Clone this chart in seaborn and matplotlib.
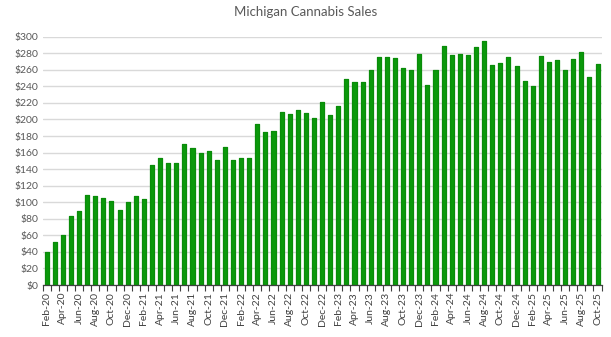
import matplotlib
matplotlib.use("Agg")
import matplotlib.pyplot as plt
import seaborn as sns
import pandas as pd
import numpy as np
from matplotlib.ticker import FixedLocator, FuncFormatter

months = ["Feb-20","Mar-20","Apr-20","May-20","Jun-20","Jul-20","Aug-20","Sep-20","Oct-20","Nov-20","Dec-20",
          "Jan-21","Feb-21","Mar-21","Apr-21","May-21","Jun-21","Jul-21","Aug-21","Sep-21","Oct-21","Nov-21","Dec-21",
          "Jan-22","Feb-22","Mar-22","Apr-22","May-22","Jun-22","Jul-22","Aug-22","Sep-22","Oct-22","Nov-22","Dec-22",
          "Jan-23","Feb-23","Mar-23","Apr-23","May-23","Jun-23","Jul-23","Aug-23","Sep-23","Oct-23","Nov-23","Dec-23",
          "Jan-24","Feb-24","Mar-24","Apr-24","May-24","Jun-24","Jul-24","Aug-24","Sep-24","Oct-24","Nov-24","Dec-24",
          "Jan-25","Feb-25","Mar-25","Apr-25","May-25","Jun-25","Jul-25","Aug-25","Sep-25","Oct-25"]
sales = [40, 52, 60, 83, 89, 109, 108, 105, 101, 91, 100,
         108, 104, 145, 153, 148, 148, 170, 165, 160, 162, 151, 167,
         151, 154, 153, 194, 185, 186, 209, 207, 211, 208, 202, 221,
         206, 216, 249, 245, 245, 260, 276, 276, 274, 262, 260, 279,
         242, 260, 289, 278, 279, 278, 288, 295, 266, 268, 276, 265,
         246, 241, 277, 269, 272, 260, 273, 282, 251, 267]
yticks = list(range(0, 301, 20))

df = pd.DataFrame({"month": months, "sales": sales})

sns.set_theme(style="white")
plt.rcParams["font.family"] = ["Lato", "DejaVu Sans"]

fig = plt.figure(figsize=(6.11, 3.37), dpi=100)
ax = fig.add_axes([42.6/611, 1 - 285/337, (601.6-42.6)/611, (285-36.7)/337])

sns.barplot(data=df, x="month", y="sales", order=months, color="#0b990b",
            width=0.5, edgecolor="#0a8c0a", linewidth=0.9, saturation=1, ax=ax, zorder=3)
for p in ax.patches:
    p.set_joinstyle("round")

ax.set_ylim(0, 300)
ax.set_xlim(-0.5, len(months) - 0.5)
ax.set_yticks(yticks)
ax.yaxis.set_major_formatter(FuncFormatter(lambda v, p: f"${int(v)}"))
ax.grid(axis="y", color="#d9d9d9", linewidth=1.0, zorder=0)
ax.set_axisbelow(True)

idx = np.arange(0, len(months), 2)
ax.set_xticks(idx)
ax.set_xticklabels([months[i] for i in idx], rotation=90)
ax.xaxis.set_minor_locator(FixedLocator(np.arange(-0.5, len(months), 1)))
ax.tick_params(axis="x", which="major", length=0, pad=5, labelsize=7.5, labelcolor="#404040")
ax.tick_params(axis="x", which="minor", length=4, width=0.8, color="#404040", direction="out", bottom=True)
ax.tick_params(axis="y", length=0, labelsize=7.5, labelcolor="#595959", pad=3)

for s in ["top", "right", "left"]:
    ax.spines[s].set_visible(False)
ax.spines["bottom"].set_color("#404040")
ax.spines["bottom"].set_linewidth(0.9)
ax.spines["bottom"].set_zorder(4)

ax.set_xlabel("")
ax.set_ylabel("")
fig.text(0.5, 1 - 12/337, "Michigan Cannabis Sales", ha="center", va="center",
         fontsize=9.5, color="#595959")

fig.savefig("out.png", dpi=100, facecolor="white")
